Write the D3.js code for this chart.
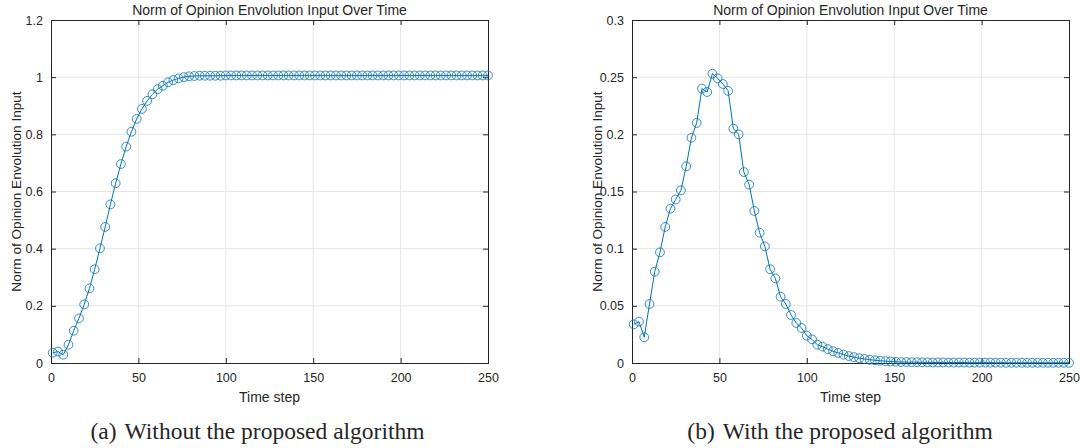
<!DOCTYPE html>
<meta charset="utf-8">
<script src="https://d3js.org/d3.v7.js"></script>
<style>
  body { margin: 0; background: #fff; }
  text { font-family: "Liberation Sans", Arial, sans-serif; fill: #262626; }
</style>
<svg id="chart" width="1081" height="448"></svg>
<script>
// time steps (a marker every 3 steps)
var steps = [1, 4, 7, 10, 13, 16, 19, 22, 25, 28, 31, 34, 37, 40, 43, 46, 49, 52, 55, 58,
  61, 64, 67, 70, 73, 76, 79, 82, 85, 88, 91, 94, 97, 100, 103, 106, 109, 112, 115, 118,
  121, 124, 127, 130, 133, 136, 139, 142, 145, 148, 151, 154, 157, 160, 163, 166, 169, 172,
  175, 178, 181, 184, 187, 190, 193, 196, 199, 202, 205, 208, 211, 214, 217, 220, 223, 226,
  229, 232, 235, 238, 241, 244, 247, 250];

// (a) without the proposed algorithm
var normA = [0.036, 0.040, 0.029, 0.064, 0.113, 0.156, 0.205, 0.261, 0.328, 0.401,
  0.476, 0.555, 0.629, 0.696, 0.757, 0.809, 0.854, 0.889, 0.917, 0.940,
  0.958, 0.970, 0.982, 0.990, 0.996, 1.000, 1.003, 1.004, 1.005, 1.005,
  1.005, 1.005, 1.005, 1.006, 1.006, 1.006, 1.006, 1.006, 1.006, 1.006,
  1.006, 1.006, 1.006, 1.006, 1.006, 1.006, 1.006, 1.006, 1.006, 1.006,
  1.006, 1.006, 1.006, 1.006, 1.006, 1.006, 1.006, 1.006, 1.006, 1.006,
  1.006, 1.006, 1.006, 1.006, 1.006, 1.006, 1.006, 1.006, 1.006, 1.006,
  1.006, 1.006, 1.006, 1.006, 1.006, 1.006, 1.006, 1.006, 1.006, 1.006,
  1.006, 1.006, 1.006, 1.006];

// (b) with the proposed algorithm
var normB = [0.0338, 0.0362, 0.0225, 0.0516, 0.0799, 0.0968, 0.119, 0.135, 0.143, 0.151,
  0.172, 0.197, 0.210, 0.240, 0.237, 0.253, 0.249, 0.244, 0.238, 0.205,
  0.200, 0.167, 0.156, 0.133, 0.114, 0.102, 0.082, 0.074, 0.058, 0.0516,
  0.042, 0.035, 0.0306, 0.0239, 0.0207, 0.016, 0.0143, 0.0122, 0.0103, 0.0088,
  0.0073, 0.0061, 0.0051, 0.0042, 0.0035, 0.0029, 0.0024, 0.0020, 0.0016, 0.0013,
  0.0011, 0.0009, 0.0008, 0.0007, 0.0007, 0.0006, 0.0006, 0.0005, 0.0005, 0.0005,
  0.0004, 0.0004, 0.0004, 0.0004, 0.0003, 0.0003, 0.0003, 0.0003, 0.0003, 0.0003,
  0.0003, 0.0002, 0.0002, 0.0002, 0.0002, 0.0002, 0.0002, 0.0002, 0.0002, 0.0002,
  0.0002, 0.0002, 0.0002, 0.0002];

var xTicks = [0, 50, 100, 150, 200, 250];
var yTicksA = [0, 0.2, 0.4, 0.6, 0.8, 1, 1.2];
var yTicksB = [0, 0.05, 0.1, 0.15, 0.2, 0.25, 0.3];

var titleText = "Norm of Opinion Envolution Input Over Time";
var yLabelText = "Norm of Opinion Envolution Input";
var xLabelText = "Time step";

var svg = d3.select("#chart");
var blue = "#0072BD";

function drawPanel(left, values, yMax, yTicks, tag, caption, capShift) {
  var w = 437, h = 343, top = 20;
  var g = svg.append("g").attr("transform", "translate(" + left + "," + top + ")");
  var x = d3.scaleLinear().domain([0, 250]).range([0, w]);
  var y = d3.scaleLinear().domain([0, yMax]).range([h, 0]);

  // grid
  g.append("g").selectAll("line").data(xTicks.slice(1, -1)).enter().append("line")
    .attr("x1", d => x(d)).attr("x2", d => x(d)).attr("y1", 0).attr("y2", h)
    .attr("stroke", "#e5e5e5").attr("stroke-width", 1);
  g.append("g").selectAll("line").data(yTicks.slice(1, -1)).enter().append("line")
    .attr("y1", d => y(d)).attr("y2", d => y(d)).attr("x1", 0).attr("x2", w)
    .attr("stroke", "#e5e5e5").attr("stroke-width", 1);

  // axes, ticks inside like matlab
  var fmt = d => String(+d.toFixed(2));
  var xb = g.append("g").attr("transform", "translate(0," + h + ")")
    .call(d3.axisBottom(x).tickValues(xTicks).tickSize(-5).tickPadding(10));
  var xt = g.append("g").call(d3.axisTop(x).tickValues(xTicks).tickSize(-5).tickFormat(""));
  var yl = g.append("g").call(d3.axisLeft(y).tickValues(yTicks).tickSize(-5).tickPadding(8).tickFormat(fmt));
  var yr = g.append("g").attr("transform", "translate(" + w + ",0)")
    .call(d3.axisRight(y).tickValues(yTicks).tickSize(-5).tickFormat(""));
  [xb, xt, yl, yr].forEach(a => {
    a.select(".domain").attr("stroke", "#262626").attr("stroke-width", 1);
    a.selectAll(".tick line").attr("stroke", "#262626");
    a.selectAll("text").style("font-size", "12.5px").attr("fill", "#262626");
  });

  // line + circle markers
  var pts = steps.map((s, i) => [s, values[i]]);
  g.append("path").datum(pts)
    .attr("fill", "none").attr("stroke", blue).attr("stroke-width", 1)
    .attr("d", d3.line().x(d => x(d[0])).y(d => y(d[1])));
  g.append("g").selectAll("circle").data(pts).enter().append("circle")
    .attr("cx", d => x(d[0])).attr("cy", d => y(d[1])).attr("r", 4.4)
    .attr("fill", "none").attr("stroke", blue).attr("stroke-width", 0.8);

  // texts
  g.append("text").attr("x", w / 2).attr("y", -5).attr("text-anchor", "middle")
    .style("font-size", "14px").text(titleText);
  g.append("text").attr("x", w / 2).attr("y", h + 38.5).attr("text-anchor", "middle")
    .style("font-size", "14px").text(xLabelText);
  g.append("text").attr("transform", "translate(" + (-30) + "," + (h / 2) + ") rotate(-90)")
    .attr("text-anchor", "middle").style("font-size", "13.6px").text(yLabelText);

  var cap = g.append("text").attr("x", w / 2 + capShift).attr("y", h + 75.5).attr("text-anchor", "middle")
    .style("font-family", "'Liberation Serif', 'Times New Roman', serif")
    .style("font-size", "23.5px").attr("fill", "#000");
  cap.append("tspan").text(tag);
  cap.append("tspan").attr("dx", 8).text(caption);
}

drawPanel(51, normA, 1.2, yTicksA, "(a)", "Without the proposed algorithm", -12);
drawPanel(632, normB, 0.3, yTicksB, "(b)", "With the proposed algorithm", -10.5);
</script>
